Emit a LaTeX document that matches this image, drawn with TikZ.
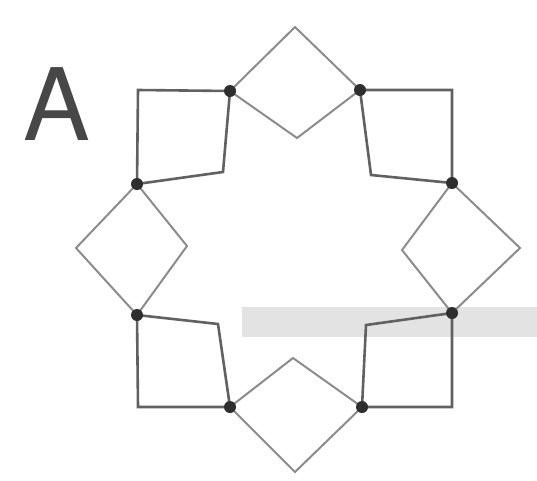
\documentclass[tikz,border=0pt]{standalone}
\usepackage{fontspec}
\setsansfont{TeX Gyre Heros}
\usetikzlibrary{positioning}

\begin{document}
\begin{tikzpicture}[x=1pt, y=-1pt,
  jn/.style={circle, fill=black!82, inner sep=0pt, minimum size=12pt},
  sq/.style={draw=black!62, line width=2.6pt, line join=miter},
  dm/.style={draw=black!45, line width=2pt, line join=miter}
]
\useasboundingbox (0,0) rectangle (537,480);

% ─── scan band (behind everything) ───
\fill[black!11] (242,307) rectangle (537,337);

% ─── panel letter ───
\node[font=\fontsize{100}{100}\selectfont\sffamily, text=black!72, inner sep=0pt,
      anchor=base] (lbl) at (56.5,140) {A};

% ─── junctions ───
\coordinate (jTL) at (230,91);
\coordinate (jTR) at (360,90);
\coordinate (jRU) at (452,183);
\coordinate (jRL) at (452,313);
\coordinate (jBR) at (362,407);
\coordinate (jBL) at (230,407);
\coordinate (jLL) at (137,315);
\coordinate (jLU) at (137,184);

% ─── square corners ───
\coordinate (oTL) at (138,90);  \coordinate (iTL) at (223,172);
\coordinate (oTR) at (452,90);  \coordinate (iTR) at (371,175);
\coordinate (oBR) at (452,407); \coordinate (iBR) at (366,325);
\coordinate (oBL) at (138,407); \coordinate (iBL) at (218,324);

% ─── diamond tips ───
\coordinate (tT) at (295,27);  \coordinate (bT) at (297,138);
\coordinate (lL) at (76,248);  \coordinate (rL) at (187,246);
\coordinate (lR) at (402,250); \coordinate (rR) at (520,248);
\coordinate (tB) at (293,358); \coordinate (bB) at (295,472);

% ─── squares ───
\draw[sq] (oTL) -- (jTL) -- (iTL) -- (jLU) -- cycle;
\draw[sq] (oTR) -- (jRU) -- (iTR) -- (jTR) -- cycle;
\draw[sq] (oBR) -- (jBR) -- (iBR) -- (jRL) -- cycle;
\draw[sq] (oBL) -- (jLL) -- (iBL) -- (jBL) -- cycle;

% ─── diamonds ───
\draw[dm] (jTL) -- (tT) -- (jTR) -- (bT) -- cycle;
\draw[dm] (jRU) -- (rR) -- (jRL) -- (lR) -- cycle;
\draw[dm] (jBL) -- (tB) -- (jBR) -- (bB) -- cycle;
\draw[dm] (jLU) -- (rL) -- (jLL) -- (lL) -- cycle;

% ─── dots on top ───
\foreach \j in {TL,TR,RU,RL,BR,BL,LL,LU}
  \node[jn] (d\j) at (j\j) {};

\end{tikzpicture}
\end{document}
